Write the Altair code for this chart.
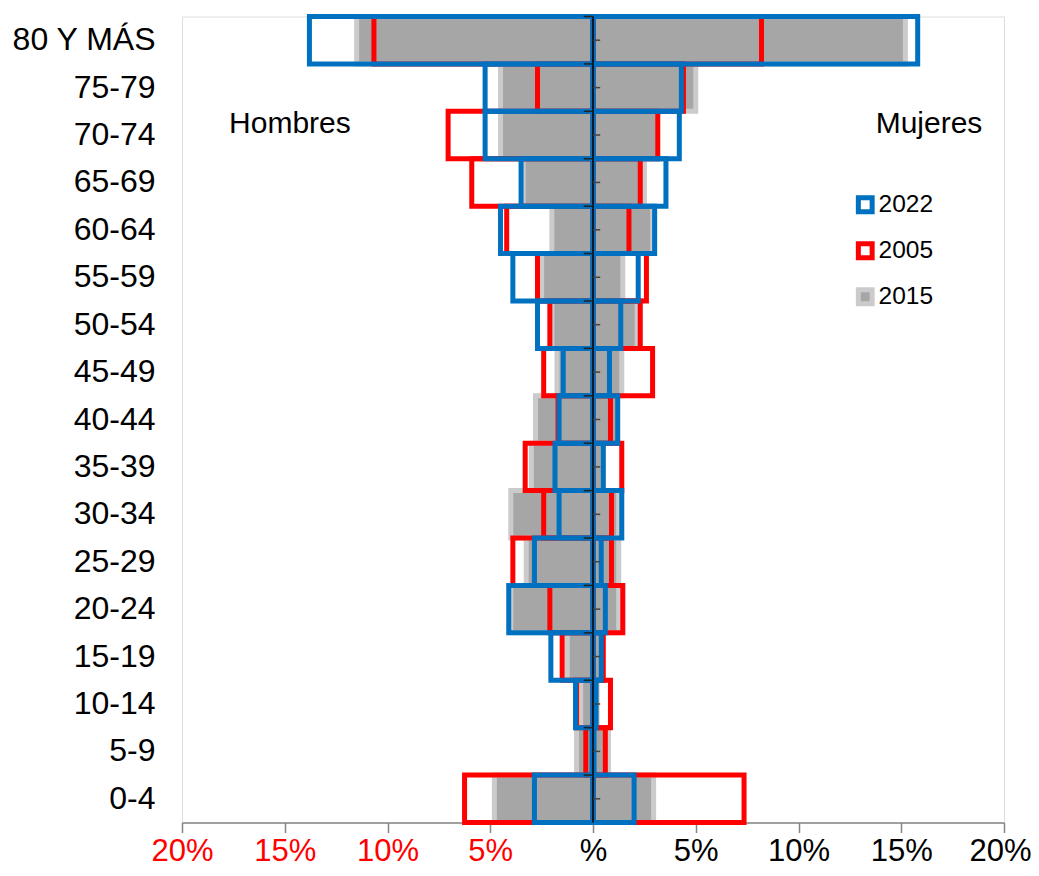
import altair as alt
import pandas as pd

ages = ["80 Y MÁS", "75-79", "70-74", "65-69", "60-64", "55-59", "50-54", "45-49",
        "40-44", "35-39", "30-34", "25-29", "20-24", "15-19", "10-14", "5-9", "0-4"]

years = ["2022", "2005", "2015"]

men_2015 = [11.5, 4.5, 4.5, 3.4, 2.0, 2.5, 2.0, 1.75, 2.8, 3.0, 4.0, 3.25, 4.0, 1.25, 0.6, 0.8, 4.8]
women_2015 = [15.2, 5.0, 3.15, 2.5, 2.9, 1.45, 2.15, 1.4, 1.2, 0.5, 1.25, 1.25, 1.25, 0.4, 0.2, 0.75, 2.95]

men_2005 = [10.66, 2.7, 7.05, 5.9, 4.2, 2.7, 2.1, 2.4, 1.7, 3.3, 2.4, 3.9, 2.1, 1.5, 0.8, 0.35, 6.25]
women_2005 = [8.2, 4.4, 3.15, 2.3, 1.75, 2.6, 2.3, 2.9, 0.85, 1.4, 0.9, 0.9, 1.45, 0.5, 0.85, 0.6, 7.35]

men_2022 = [13.8, 5.25, 5.25, 3.5, 4.5, 3.9, 2.7, 1.45, 1.65, 1.85, 1.65, 2.85, 4.1, 2.05, 0.85, 0.05, 2.85]
women_2022 = [15.8, 4.3, 4.2, 3.55, 3.0, 2.2, 1.35, 0.8, 1.2, 0.5, 1.4, 0.4, 0.6, 0.4, 0.15, 0.05, 2.0]

tick_values = [-20, -15, -10, -5, 0, 5, 10, 15, 20]

rows = []
for z, (yr, men, women) in enumerate([("2015", men_2015, women_2015),
                                      ("2005", men_2005, women_2005),
                                      ("2022", men_2022, women_2022)]):
    for a, m, w in zip(ages, men, women):
        rows.append({"age": a, "year": yr, "value": -m, "z": z})
        rows.append({"age": a, "year": yr, "value": w, "z": z})
df = pd.DataFrame(rows)
age_df = pd.DataFrame({"age": ages})
one = pd.DataFrame({"k": [0]})

FONT = "Liberation Sans"

xscale = alt.Scale(domain=[-20, 20], nice=False, zero=False)
yenc = alt.Y("age:N", sort=ages, title=None,
             scale=alt.Scale(paddingInner=0, paddingOuter=0),
             axis=alt.Axis(ticks=False, domain=False, labelFontSize=32, labelPadding=27,
                           labelColor="#000000", labelFont=FONT))

legend = alt.Legend(title=None, orient="none", legendX=671, legendY=176,
                    symbolType="square", symbolSize=190, symbolStrokeWidth=3.5,
                    labelFontSize=24.5, labelFont=FONT, labelColor="#000000",
                    labelOffset=1, rowPadding=11, padding=0)

bars = alt.Chart(df).mark_bar(cornerRadius=0).encode(
    x=alt.X("value:Q", scale=xscale, stack=None, title=None,
            axis=alt.Axis(values=tick_values, grid=False, tickSize=10,
                          tickColor="#868686", domainColor="#868686", domainWidth=1.5,
                          tickWidth=1.5, labelFontSize=31, labelFont=FONT,
                          labelFlush=False, labelOverlap=False, labelPadding=4,
                          labelOffset=alt.ExprRef("datum.value == 20 ? -4 : 0"),
                          labelExpr="datum.value == 0 ? '%' : abs(datum.value) + '%'",
                          labelColor=alt.ExprRef("datum.value < 0 ? '#ff0000' : '#000000'"))),
    y=yenc,
    fill=alt.Fill("year:N", scale=alt.Scale(domain=years,
                  range=["transparent", "transparent", "#a6a6a6"]), legend=legend),
    stroke=alt.Stroke("year:N", scale=alt.Scale(domain=years,
                      range=["#0070c0", "#ff0000", "#cbcbcb"]), legend=legend),
    strokeWidth=alt.StrokeWidth("year:N", scale=alt.Scale(domain=years, range=[5, 5, 3]),
                                legend=None),
    order=alt.Order("z:Q"),
)

center = alt.Chart(one).mark_rule(color="#000000", strokeWidth=1.5).encode(
    x=alt.datum(0, scale=xscale))

bticks = alt.Chart(age_df).mark_rule(color="#222222", strokeWidth=1.5).encode(
    x=alt.datum(-0.45), x2=alt.datum(0),
    y=alt.Y("age:N", sort=ages, bandPosition=0))

cticks = alt.Chart(age_df).mark_rule(color="#444444", strokeWidth=1.5).encode(
    x=alt.datum(0), x2=alt.datum(0.35),
    y=alt.Y("age:N", sort=ages))

hombres = alt.Chart(one).mark_text(fontSize=30, font=FONT, color="#000000", dy=-11).encode(
    x=alt.datum(-14.75), y=alt.datum("70-74"), text=alt.value("Hombres"))
mujeres = alt.Chart(one).mark_text(fontSize=30, font=FONT, color="#000000", dy=-11).encode(
    x=alt.datum(16.35), y=alt.datum("70-74"), text=alt.value("Mujeres"))

chart = alt.layer(bars, center, bticks, cticks, hombres, mujeres).properties(
    width=822, height=806,
    autosize=alt.AutoSizeParams(type="none"),
    padding={"left": 174, "top": 8.5, "right": 27, "bottom": 45},
    background="white",
).configure_view(stroke=None).configure(font=FONT)

chart.save("out.html", embed_options={"renderer": "svg", "actions": False})
